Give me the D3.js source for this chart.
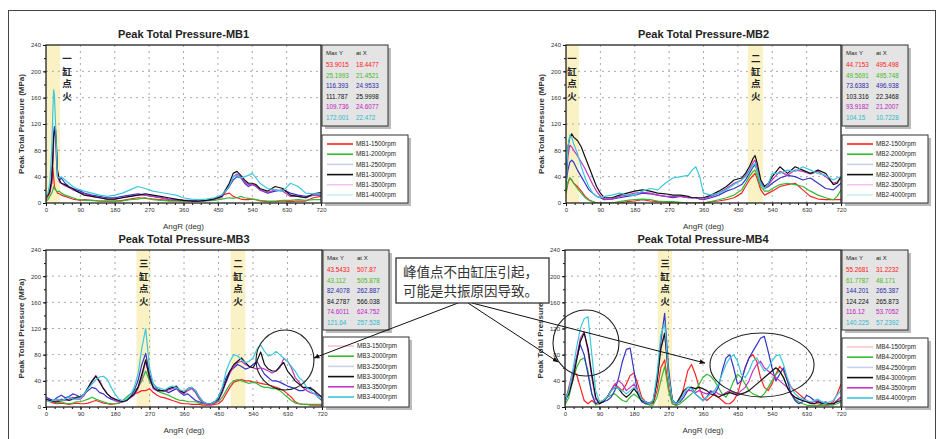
<!DOCTYPE html>
<html>
<head>
<meta charset="utf-8">
<script src="https://cdn.jsdelivr.net/npm/d3@7"></script>
<style>
  body { margin: 0; background: #fff; }
  svg { display: block; }
  text { font-family: "Liberation Sans", Arial, sans-serif; }
  .cjk { font-family: "Noto Sans CJK SC", sans-serif; }
</style>
</head>
<body>
<div id="chart"></div>
<script>
// ---- data ----
var rpmLabels = ['1500rpm', '2000rpm', '2500rpm', '3000rpm', '3500rpm', '4000rpm'];
var xTickValues = [0, 90, 180, 270, 360, 450, 540, 630, 720];
var yTickValues = [0, 40, 80, 120, 160, 200, 240];

var mb1Angle = [0,5,10,15,18,20,22,25,28,30, 35,40,50,60,70,80,90,100, 120,140,160,180,200,220,240,260,280,300,
  320,340,360,380,400,420,440,460,480, 490,500,510,520,530,540,550,560, 580,600,620,640,660,680,700,720];
var mb1Values = [
  [5,10,15,30,54,40,25,20,18,15, 14,12,10,8,6,5,4,5, 4,3,3,3,4,6,8,7,6,5, 4,4,3,3,3,4,5,12,15, 10,8,6,5,5,6,5,3, 2,2,3,2,3,3,8,10],
  [3,5,10,15,20,25,22,20,18,17, 18,15,12,10,8,6,5,4, 4,3,3,3,3,5,6,8,5,4, 3,3,3,3,3,3,4,6,8, 7,8,10,8,7,6,5,4, 3,3,4,4,5,4,5,5],
  [8,12,20,40,80,105,116,100,60,40, 35,38,30,25,22,20,18,15, 12,10,8,8,10,12,14,12,10,8, 6,5,4,4,3,4,6,10,25, 35,40,38,30,25,28,25,20, 15,18,20,15,12,10,12,12],
  [10,12,18,35,70,100,108,112,80,50, 35,30,28,24,22,18,15,12, 10,8,6,6,8,10,12,14,12,10, 8,6,4,3,3,4,6,10,30, 45,48,42,35,30,30,28,22, 18,25,22,12,10,8,14,16],
  [10,12,18,30,60,95,110,105,75,45, 32,30,26,24,20,18,16,14, 10,8,6,6,8,10,12,12,10,8, 6,5,4,3,3,4,6,8,28, 40,44,40,32,28,28,26,20, 16,20,18,10,10,8,12,14],
  [10,15,30,80,140,172,165,120,70,40, 38,40,35,30,25,22,20,18, 15,12,10,12,15,20,25,22,18,16, 14,12,8,6,5,6,8,12,25, 40,42,38,40,42,45,38,30, 22,20,18,30,25,15,14,14]
];

var mb2Angle = [0,5,10,15,20,30,40,50,60,70, 80,90,100,120,140,160,180,200,220,240,
  260,280,300,320,330,340,350,360,380,400, 420,440,460,470,480,490,495,500,510,520,
  530,540,560,580,600,620,640,660,680,700, 710,720];
var mb2Values = [
  [15,30,38,35,30,25,18,10,5,2, 0,0,0,0,0,2,3,5,3,2, 2,0,0,0,0,0,0,0,2,3, 5,8,15,25,35,42,45,38,20,12, 15,18,25,28,30,20,10,6,5,5, 5,5],
  [15,32,38,35,30,22,15,8,4,2, 0,0,0,0,2,4,5,6,5,3, 2,2,1,0,0,0,0,0,2,5, 8,12,20,30,40,48,50,42,25,18, 18,22,28,30,28,25,18,12,8,5, 10,20],
  [30,50,62,65,62,50,40,30,20,15, 10,8,5,6,8,10,12,15,14,12, 10,8,10,8,8,8,6,5,8,12, 18,22,28,35,45,55,58,50,30,22, 25,30,38,42,40,35,38,30,22,20, 25,30],
  [35,85,100,105,100,95,85,70,55,40, 25,15,8,8,12,15,18,20,18,15, 14,12,12,10,8,8,8,8,12,18, 25,35,38,45,55,68,72,62,35,25, 30,40,55,45,55,50,45,50,45,28, 30,40],
  [30,70,88,85,80,72,62,52,40,28, 18,10,6,6,10,12,15,16,15,12, 10,10,10,8,8,8,6,6,10,15, 22,30,35,42,50,62,65,55,30,22, 28,35,48,42,50,48,44,48,40,30, 32,38],
  [25,85,103,100,90,75,55,38,25,15, 10,8,10,12,15,12,12,18,22,20, 30,38,40,42,50,55,40,15,12,15, 20,28,35,40,48,58,60,50,28,22, 30,45,45,50,48,55,50,45,42,35, 38,40]
];

// MB3 and MB4 are read every 10 degrees
var mb3Angle = d3.range(0, 721, 10);
var mb3Values = [
  [10,8,6,5,6,5,4,5,6,5, 5,6,8,10,8,6,5,4,5,6, 8,10,15,20,22,25,25,28,22,18, 15,14,12,10,8,6,5,5,4,4,
   4,3,3,3,4,5,10,20,30,38, 40,42,40,40,38,38,36,35,34,32, 30,28,25,20,15,8,5,4,4,3, 3,3,3],
  [12,10,8,6,8,6,5,6,8,8, 10,12,15,12,10,8,6,5,5,6, 10,15,20,25,30,40,55,40,30,25, 22,20,18,15,12,10,10,8,8,8,
   6,5,5,5,6,8,15,25,35,40, 42,40,38,36,38,36,32,30,30,28, 28,25,20,15,10,6,5,4,4,4, 4,4,4],
  [15,12,10,15,18,14,16,20,18,15, 20,25,30,28,22,20,15,12,10,8, 8,10,15,25,40,65,82,50,35,28, 25,25,22,25,28,22,18,20,15,10,
   8,6,5,5,8,15,30,45,55,60, 65,62,58,60,65,70,60,50,45,40, 40,38,35,32,30,28,25,25,28,30, 25,15,10],
  [12,10,8,8,10,12,10,12,15,15, 20,30,40,47,38,28,20,15,12,10, 8,10,15,20,30,50,72,45,30,25, 25,25,28,30,32,25,22,28,30,25,
   15,8,5,5,8,12,25,40,55,65, 70,75,68,62,60,70,84,65,58,55, 55,62,68,55,48,40,35,30,30,28, 25,20,15],
  [12,10,8,10,12,10,12,15,12,12, 18,28,38,48,40,28,20,14,10,8, 8,10,14,18,28,45,70,45,28,25, 25,24,26,28,30,24,20,25,28,22,
   12,6,4,4,6,10,22,38,52,62, 68,70,65,62,60,58,60,58,55,52, 55,60,74,70,60,45,38,30,25,22, 20,18,15],
  [10,8,10,12,10,12,15,12,12,14, 20,28,35,42,46,47,42,30,20,12, 10,12,18,30,50,90,120,60,35,30, 28,26,30,32,30,26,24,28,30,25,
   15,8,5,5,8,15,30,55,70,80, 78,72,68,70,75,88,95,85,78,80, 85,80,75,70,62,55,45,40,30,25, 20,15,12]
];

var mb4Angle = d3.range(0, 721, 10);
var mb4Values = [
  [5,30,55,50,30,10,5,10,5,8, 10,15,25,35,30,25,35,48,52,35, 15,8,5,5,25,60,72,30,5,3, 10,30,55,65,50,30,15,10,15,20,
   15,10,5,5,10,20,40,60,75,80, 70,45,30,25,35,50,62,55,40,30, 25,20,15,10,5,5,5,3,3,5, 8,20,35],
  [3,15,40,60,72,75,55,20,3,5, 10,15,18,20,15,10,8,15,20,15, 10,5,3,3,15,40,62,25,5,2, 5,10,15,20,25,35,45,50,47,40,
   30,20,15,25,40,50,45,35,25,20, 18,15,20,30,40,50,55,45,30,20, 12,8,5,3,2,2,2,3,2,3, 3,5,8],
  [10,25,50,75,95,80,50,20,5,8, 8,10,15,25,45,70,88,90,55,20, 8,5,5,10,40,100,143,60,10,5, 8,15,25,30,20,15,10,15,25,20,
   30,55,75,80,60,35,40,60,75,85, 95,105,108,85,60,40,50,60,40,20, 10,5,8,18,15,10,8,5,8,5, 5,10,15],
  [10,20,40,70,100,113,90,50,15,5, 8,15,25,30,28,20,15,20,28,20, 10,8,5,8,40,90,113,50,10,5, 15,25,30,30,28,30,28,25,20,18,
   15,18,20,22,20,18,20,22,25,30, 35,40,45,50,55,60,55,45,30,20, 15,12,10,8,6,5,8,6,5,5, 5,8,10],
  [10,22,45,75,105,115,85,45,12,5, 8,15,25,35,40,35,25,30,35,25, 10,8,6,10,40,88,112,50,10,5, 12,20,25,25,22,25,22,20,22,25,
   20,18,22,25,22,20,25,30,40,55, 65,70,60,55,50,45,40,35,30,20, 15,12,10,8,6,8,10,8,6,5, 5,10,15],
  [8,25,55,90,120,135,138,80,25,8, 10,15,25,30,28,25,20,25,30,25, 12,8,5,10,50,110,128,50,10,5, 10,20,30,28,20,15,10,15,20,25,
   35,50,65,75,80,70,50,45,55,70, 75,65,55,60,70,78,80,65,45,30, 20,15,12,10,8,10,12,8,5,8, 10,18,25]
];

// "Max Y / at X" tables as printed
var mb1MaxY = ['53.9015', '25.1993', '116.393', '111.787', '109.736', '172.001'];
var mb1AtX  = ['18.4477', '21.4521', '24.9533', '25.9998', '24.6077', '22.472'];
var mb2MaxY = ['44.7153', '49.5691', '73.6383', '103.316', '93.9182', '104.15'];
var mb2AtX  = ['495.498', '495.748', '496.938', '22.3468', '21.2007', '10.7228'];
var mb3MaxY = ['43.5433', '43.112', '82.4078', '84.2787', '74.6011', '121.64'];
var mb3AtX  = ['507.87', '505.878', '262.887', '566.038', '624.752', '257.528'];
var mb4MaxY = ['55.2681', '61.7787', '144.201', '124.224', '116.12', '140.225'];
var mb4AtX  = ['31.2232', '48.171', '265.387', '265.873', '53.7052', '57.2392'];

// ignition bands [from, to, label position] in degrees
var mb1Bands = [[0, 37, 55, '一缸点火']];
var mb2Bands = [[0, 34, 16, '一缸点火'], [476, 516, 497, '二缸点火']];
var mb3Bands = [[236, 273, 255, '三缸点火'], [482, 520, 501, '二缸点火']];
var mb4Bands = [[242, 279, 261, '三缸点火']];

var noteLines = ['峰值点不由缸压引起，', '可能是共振原因导致。'];

// ---- styles ----
var lineColors = ['#ff2222', '#33bb33', '#3535c8', '#111111', '#c535c5', '#3cc8dc'];
var tableColors = ['#ff2020', '#44bb22', '#2a2aa8', '#111111', '#c020c0', '#30b8cc'];
var legendColorsTop = ['#ff2222', '#33bb33', '#c8d0f0', '#111111', '#f0c4f0', '#c8eef6'];
var legendColorsBottom = ['#f8c4cc', '#33bb33', '#c8d0f0', '#111111', '#c535c5', '#3cc8dc'];

var W = 940, H = 439;
var svg = d3.select('#chart').append('svg').attr('width', W).attr('height', H);

svg.append('rect').attr('x', 8.5).attr('y', 10.5).attr('width', 927).attr('height', 440)
  .attr('fill', 'none').attr('stroke', '#444').attr('stroke-width', 1);

var panels = [
  { name: 'MB1', box: { x: 46, y: 45, w: 275, h: 158 }, angle: mb1Angle, values: mb1Values, bands: mb1Bands,
    maxY: mb1MaxY, atX: mb1AtX, legend: legendColorsTop, tableH: 81, legendTop: 90 },
  { name: 'MB2', box: { x: 566, y: 45, w: 275, h: 158 }, angle: mb2Angle, values: mb2Values, bands: mb2Bands,
    maxY: mb2MaxY, atX: mb2AtX, legend: legendColorsTop, tableH: 81, legendTop: 90 },
  { name: 'MB3', box: { x: 46, y: 250, w: 276, h: 157 }, angle: mb3Angle, values: mb3Values, bands: mb3Bands,
    maxY: mb3MaxY, atX: mb3AtX, legend: legendColorsBottom, tableH: 80, legendTop: 87 },
  { name: 'MB4', box: { x: 565, y: 250, w: 276, h: 157 }, angle: mb4Angle, values: mb4Values, bands: mb4Bands,
    maxY: mb4MaxY, atX: mb4AtX, legend: legendColorsBottom, tableH: 80, legendTop: 88 }
];

panels.forEach(function(p, pi) { drawPanel(p, pi); });

function drawPanel(p, pi) {
  var b = p.box;
  var g = svg.append('g');
  var x = d3.scaleLinear().domain([0, 720]).range([b.x, b.x + b.w]);
  var y = d3.scaleLinear().domain([0, 240]).range([b.y + b.h, b.y]);

  // ignition bands
  p.bands.forEach(function(band) {
    g.append('rect').attr('x', x(band[0])).attr('y', b.y)
      .attr('width', x(band[1]) - x(band[0])).attr('height', b.h)
      .attr('fill', '#faf2c4');
  });

  // dashed grid
  g.append('g').selectAll('line').data(xTickValues.slice(1, -1)).join('line')
    .attr('x1', function(d) { return x(d); }).attr('x2', function(d) { return x(d); })
    .attr('y1', b.y).attr('y2', b.y + b.h)
    .attr('stroke', '#aaa').attr('stroke-width', 1).attr('stroke-dasharray', '2,4');
  g.append('g').selectAll('line').data(yTickValues.slice(1, -1)).join('line')
    .attr('y1', function(d) { return y(d); }).attr('y2', function(d) { return y(d); })
    .attr('x1', b.x).attr('x2', b.x + b.w)
    .attr('stroke', '#aaa').attr('stroke-width', 1).attr('stroke-dasharray', '2,4');

  // band labels (vertical Chinese text)
  p.bands.forEach(function(band) {
    band[3].split('').forEach(function(ch, i) {
      g.append('text').attr('class', 'cjk').attr('x', x(band[2])).attr('y', b.y + 17 + i * 12.6)
        .attr('text-anchor', 'middle').attr('font-size', 9.5).attr('font-weight', 'bold')
        .attr('fill', '#222').text(ch);
    });
  });

  // series
  var clipId = 'clip' + pi;
  svg.append('clipPath').attr('id', clipId).append('rect')
    .attr('x', b.x).attr('y', b.y).attr('width', b.w).attr('height', b.h);
  var line = d3.line()
    .x(function(d, i) { return x(p.angle[i]); })
    .y(function(d) { return y(d); });
  var order = [0, 1, 2, 4, 3, 5];
  order.forEach(function(k) {
    g.append('path').datum(p.values[k]).attr('d', line)
      .attr('clip-path', 'url(#' + clipId + ')')
      .attr('fill', 'none').attr('stroke', lineColors[k]).attr('stroke-width', 1.2)
      .attr('stroke-linejoin', 'round');
  });

  // axes
  var xAxis = d3.axisBottom(x).tickValues(xTickValues).tickSize(3).tickPadding(2).tickFormat(d3.format('d'));
  var xMinor = d3.axisBottom(x).tickValues(d3.range(0, 721, 22.5)).tickSize(2).tickFormat('');
  var yAxis = d3.axisLeft(y).tickValues(yTickValues).tickSize(3).tickPadding(2).tickFormat(d3.format('d'));
  var yMinor = d3.axisLeft(y).tickValues(d3.range(0, 241, 20)).tickSize(2).tickFormat('');

  [xMinor, xAxis].forEach(function(ax) {
    var a = g.append('g').attr('transform', 'translate(0,' + (b.y + b.h) + ')').call(ax);
    a.select('.domain').remove();
    a.selectAll('line').attr('stroke', '#111');
    a.selectAll('text').attr('font-size', 6).attr('fill', '#333');
  });
  [yMinor, yAxis].forEach(function(ax) {
    var a = g.append('g').attr('transform', 'translate(' + b.x + ',0)').call(ax);
    a.select('.domain').remove();
    a.selectAll('line').attr('stroke', '#111');
    a.selectAll('text').attr('font-size', 6).attr('fill', '#333');
  });

  // plot frame
  g.append('rect').attr('x', b.x).attr('y', b.y).attr('width', b.w).attr('height', b.h)
    .attr('fill', 'none').attr('stroke', '#222').attr('stroke-width', 1.3);

  // titles
  g.append('text').attr('x', b.x + b.w / 2).attr('y', b.y - 7).attr('text-anchor', 'middle')
    .attr('font-size', 11).attr('font-weight', 'bold').attr('fill', '#222')
    .text('Peak Total Pressure-' + p.name);
  g.append('text').attr('x', b.x + b.w / 2).attr('y', b.y + b.h + 26).attr('text-anchor', 'middle')
    .attr('font-size', 8).attr('fill', '#333').text('AngR (deg)');
  g.append('text').attr('transform', 'translate(' + (b.x - 22) + ',' + (b.y + b.h / 2) + ') rotate(-90)')
    .attr('text-anchor', 'middle').attr('font-size', 8).attr('font-weight', 'bold').attr('fill', '#333')
    .text('Peak Total Pressure (MPa)');

  // Max Y / at X table
  var tx = b.x + b.w + 1, ty = b.y;
  g.append('rect').attr('x', tx + 3).attr('y', ty + 3).attr('width', 66).attr('height', p.tableH).attr('fill', '#bbb');
  g.append('rect').attr('x', tx).attr('y', ty).attr('width', 66).attr('height', p.tableH)
    .attr('fill', '#e4e4e4').attr('stroke', '#333').attr('stroke-width', 1);
  g.append('text').attr('x', tx + 4).attr('y', ty + 10).attr('font-size', 6).attr('fill', '#222').text('Max Y');
  g.append('text').attr('x', tx + 34).attr('y', ty + 10).attr('font-size', 6).attr('fill', '#222').text('at X');
  p.maxY.forEach(function(v, i) {
    g.append('text').attr('x', tx + 4).attr('y', ty + 22 + i * 10.5).attr('font-size', 6.3)
      .attr('fill', tableColors[i]).text(v);
    g.append('text').attr('x', tx + 34).attr('y', ty + 22 + i * 10.5).attr('font-size', 6.3)
      .attr('fill', tableColors[i]).text(p.atX[i]);
  });

  // legend
  var lx = tx, ly = b.y + p.legendTop, lh = b.y + b.h - ly;
  g.append('rect').attr('x', lx + 3).attr('y', ly + 3).attr('width', 86).attr('height', lh).attr('fill', '#bbb');
  g.append('rect').attr('x', lx).attr('y', ly).attr('width', 86).attr('height', lh)
    .attr('fill', '#fff').attr('stroke', '#333').attr('stroke-width', 1);
  rpmLabels.forEach(function(r, i) {
    var yy = ly + 9 + i * 10.2;
    g.append('line').attr('x1', lx + 5).attr('x2', lx + 31).attr('y1', yy).attr('y2', yy)
      .attr('stroke', p.legend[i]).attr('stroke-width', 1.6);
    g.append('text').attr('x', lx + 34).attr('y', yy + 2.2).attr('font-size', 6.3).attr('fill', '#222')
      .text(p.name + '-' + r);
  });
}

// ---- annotation: note box, arrows, circled regions ----
var defs = svg.append('defs');
defs.append('marker').attr('id', 'arrow').attr('viewBox', '0 0 10 10').attr('refX', 9).attr('refY', 5)
  .attr('markerWidth', 6).attr('markerHeight', 6).attr('orient', 'auto')
  .append('path').attr('d', 'M0,1 L10,5 L0,9 Z').attr('fill', '#111');

var ellipses = [
  { cx: 285, cy: 360, rx: 29, ry: 30 },
  { cx: 586, cy: 343, rx: 33, ry: 33 },
  { cx: 762, cy: 365, rx: 52, ry: 32 }
];
svg.selectAll('ellipse.note').data(ellipses).join('ellipse')
  .attr('cx', function(d) { return d.cx; }).attr('cy', function(d) { return d.cy; })
  .attr('rx', function(d) { return d.rx; }).attr('ry', function(d) { return d.ry; })
  .attr('fill', 'none').attr('stroke', '#222').attr('stroke-width', 1.1);

var arrows = [
  { x1: 458, y1: 303, x2: 314, y2: 358 },
  { x1: 468, y1: 303, x2: 558, y2: 362 },
  { x1: 472, y1: 303, x2: 705, y2: 363 }
];
svg.selectAll('line.arrow').data(arrows).join('line')
  .attr('x1', function(d) { return d.x1; }).attr('y1', function(d) { return d.y1; })
  .attr('x2', function(d) { return d.x2; }).attr('y2', function(d) { return d.y2; })
  .attr('stroke', '#111').attr('stroke-width', 1).attr('marker-end', 'url(#arrow)');

svg.append('rect').attr('x', 396).attr('y', 258).attr('width', 153).attr('height', 45)
  .attr('fill', '#fff').attr('stroke', '#333').attr('stroke-width', 1.3);
noteLines.forEach(function(t, i) {
  svg.append('text').attr('class', 'cjk').attr('x', 403).attr('y', 277 + i * 19)
    .attr('font-size', 13.5).attr('fill', '#333').text(t);
});
</script>
</body>
</html>
